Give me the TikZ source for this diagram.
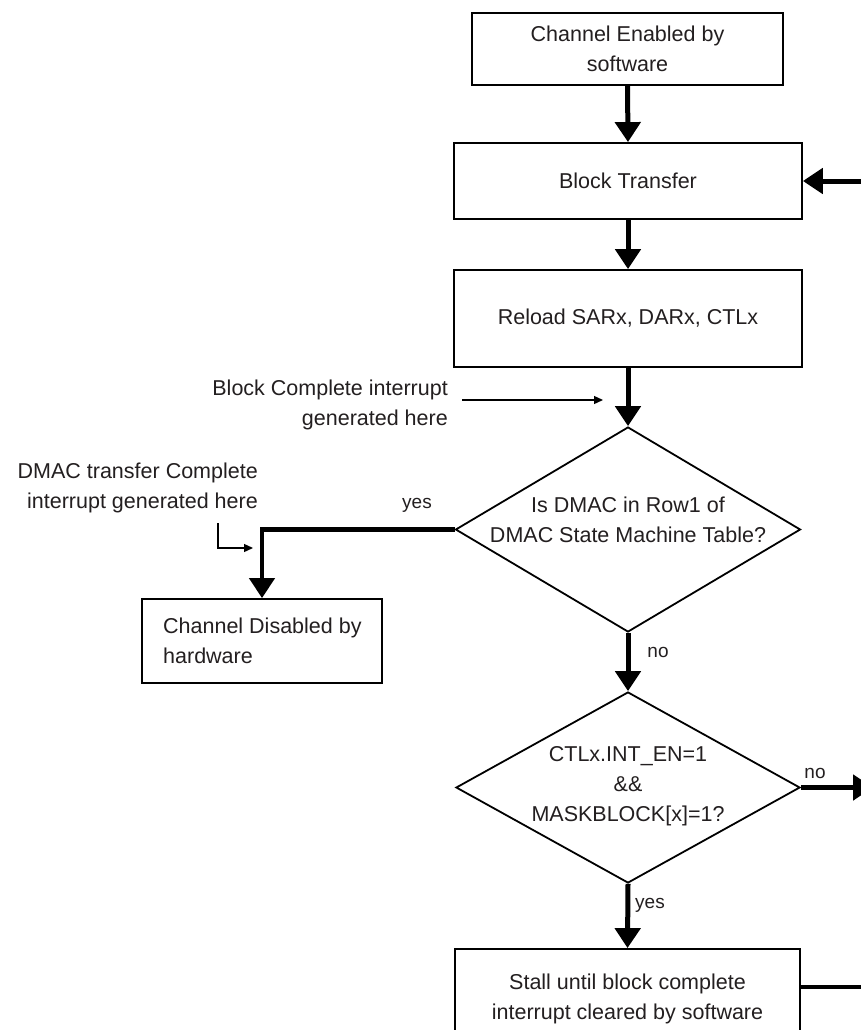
\documentclass[tikz,border=0pt]{standalone}
\usepackage{fontspec}
\setmainfont{Liberation Sans}
\usetikzlibrary{arrows.meta,shapes.geometric}
\definecolor{txtc}{HTML}{231F20}
\begin{document}
\begin{tikzpicture}[x=1pt,y=-1pt,
  every node/.style={text=txtc, font=\fontsize{21.5}{30}\selectfont},
  box/.style={draw=black, line width=1.8pt, inner sep=0pt, align=center},
  dia/.style={draw=black, line width=1.8pt, diamond, inner sep=0pt},
  txtnode/.style={align=center, inner sep=0pt},
  flow/.style={line width=5pt, -{Triangle[length=20pt,width=25pt]}},
  note/.style={line width=1.3pt, -{Triangle[length=9pt,width=8pt]}},
  lab/.style={font=\fontsize{19}{22}\selectfont, inner sep=0pt},
]
\clip (0,0) rectangle (861,1030);
\fill[white] (0,0) rectangle (861,1030);

% boxes
\node[box, minimum width=311pt, minimum height=72pt] (b1) at (627.5,49) {Channel Enabled by\\software};
\node[box, minimum width=348pt, minimum height=76pt] (b2) at (628,181) {Block Transfer};
\node[box, minimum width=348pt, minimum height=97pt] (b3) at (628,318.5) {Reload SARx, DARx, CTLx};
\node[dia, minimum width=345pt, minimum height=205pt] (d1) at (628,529.5) {};
\node[txtnode] (d1t) at (628,520) {Is DMAC in Row1 of\\DMAC State Machine Table?};
\node[box, minimum width=240pt, minimum height=84pt] (cd) at (262,641) {};
\node[anchor=west, align=left, inner sep=0pt] (cdt) at (163,641) {Channel Disabled by\\hardware};
\node[dia, minimum width=344pt, minimum height=191pt] (d2) at (628,787.5) {};
\node[txtnode] (d2t) at (628,786) {CTLx.INT\_EN=1\\\&\&\\MASKBLOCK[x]=1?};
\node[box, minimum width=345pt, minimum height=100pt] (st) at (627.5,999) {Stall until block complete\\interrupt cleared by software};

% annotations
\node[anchor=east, align=right, inner sep=0pt] (bc) at (448,405) {Block Complete interrupt\\generated here};
\node[anchor=east, align=right, inner sep=0pt] (dt) at (258,488) {DMAC transfer Complete\\interrupt generated here};
\coordinate (n1a) at (462,400);
\coordinate (n1b) at (603,400);
\draw[note] (n1a) -- (n1b);
\coordinate (n2a) at (218,523);
\coordinate (n2b) at (253,548);
\draw[note] (n2a) |- (n2b);

% labels
\node[lab] (l1) at (417,505) {yes};
\node[lab] (l2) at (658,652) {no};
\node[lab] (l3) at (815,773) {no};
\node[lab] (l4) at (650,905) {yes};

% flow connectors
\draw[flow] (b1.south) -- (b2.north);
\draw[flow] (b2.south) -- (b3.north);
\draw[flow] (b3.south) -- (d1.north);
\draw[flow] (d1.south) -- (d2.north);
\draw[flow] (d2.south) -- (st.north);
\draw[line width=4.5pt, -{Triangle[length=20pt,width=25pt]}] (d1.west) -| (cd.north);

% off-picture loop
\coordinate (r1) at (880,181);
\coordinate (r2) at (873,787.5);
\coordinate (r3) at (880,987);
\draw[flow] (r1) -- (b2.east);
\draw[flow] (d2.east) -- (r2);
\draw[line width=3.3pt] ([yshift=12pt]st.east) -- (r3);
\end{tikzpicture}
\end{document}
